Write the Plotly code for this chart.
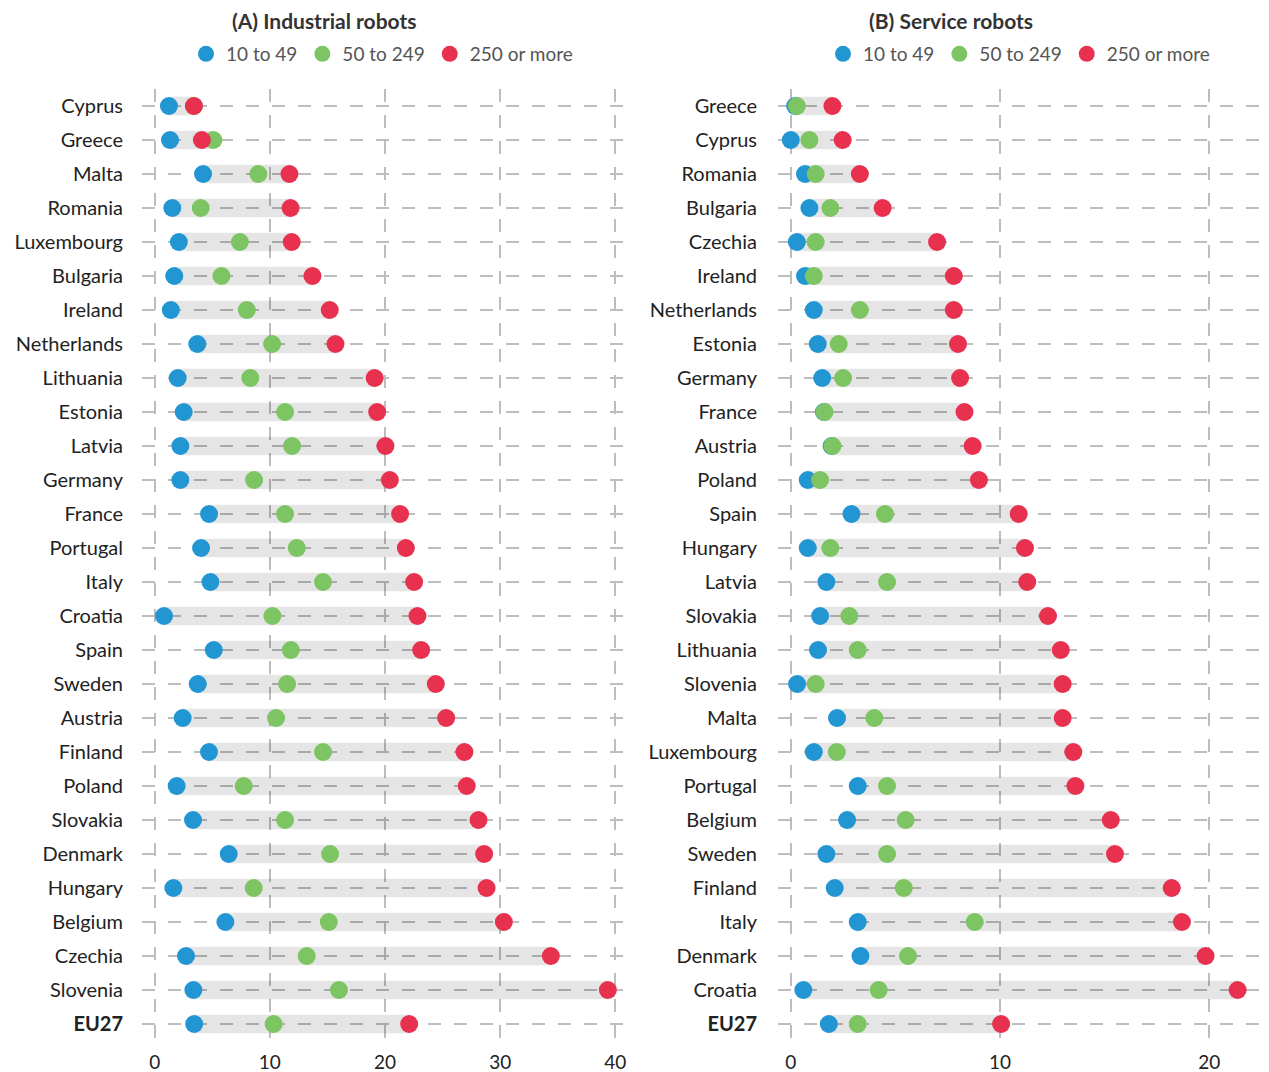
import plotly.graph_objects as go

# ---------------- data ----------------
countries_a = ["Cyprus", "Greece", "Malta", "Romania", "Luxembourg", "Bulgaria", "Ireland",
               "Netherlands", "Lithuania", "Estonia", "Latvia", "Germany", "France", "Portugal",
               "Italy", "Croatia", "Spain", "Sweden", "Austria", "Finland", "Poland", "Slovakia",
               "Denmark", "Hungary", "Belgium", "Czechia", "Slovenia", "<b>EU27</b>"]
small_a = [1.24, 1.33, 4.2, 1.53, 2.1, 1.7, 1.4, 3.7, 2.0, 2.52, 2.23, 2.23, 4.72, 4.03,
           4.84, 0.81, 5.13, 3.74, 2.43, 4.72, 1.91, 3.33, 6.43, 1.62, 6.14, 2.72, 3.36, 3.43]
medium_a = [3.4, 5.1, 9.0, 4.0, 7.4, 5.8, 8.0, 10.2, 8.3, 11.32, 11.93, 8.63, 11.32, 12.34,
            14.62, 10.22, 11.82, 11.5, 10.54, 14.62, 7.73, 11.32, 15.23, 8.6, 15.12, 13.2, 16.0, 10.33]
large_a = [3.41, 4.1, 11.7, 11.8, 11.9, 13.7, 15.2, 15.7, 19.1, 19.32, 20.04, 20.42, 21.31, 21.81,
           22.53, 22.82, 23.14, 24.41, 25.31, 26.9, 27.1, 28.12, 28.61, 28.82, 30.32, 34.4, 39.35, 22.1]

countries_b = ["Greece", "Cyprus", "Romania", "Bulgaria", "Czechia", "Ireland", "Netherlands",
               "Estonia", "Germany", "France", "Austria", "Poland", "Spain", "Hungary", "Latvia",
               "Slovakia", "Lithuania", "Slovenia", "Malta", "Luxembourg", "Portugal", "Belgium",
               "Sweden", "Finland", "Italy", "Denmark", "Croatia", "<b>EU27</b>"]
small_b = [0.21, 0.0, 0.68, 0.89, 0.29, 0.68, 1.1, 1.29, 1.5, 1.58, 1.95, 0.81, 2.9, 0.81, 1.7,
           1.4, 1.3, 0.3, 2.21, 1.1, 3.2, 2.69, 1.7, 2.1, 3.2, 3.33, 0.6, 1.82]
medium_b = [0.29, 0.89, 1.19, 1.89, 1.19, 1.1, 3.3, 2.29, 2.5, 1.61, 1.99, 1.4, 4.5, 1.89, 4.6,
            2.8, 3.2, 1.19, 3.99, 2.2, 4.6, 5.49, 4.6, 5.4, 8.79, 5.6, 4.2, 3.2]
large_b = [1.99, 2.48, 3.3, 4.39, 6.99, 7.79, 7.79, 7.99, 8.09, 8.3, 8.69, 8.99, 10.89, 11.19, 11.3,
           12.29, 12.9, 12.99, 12.99, 13.5, 13.6, 15.29, 15.49, 18.2, 18.69, 19.82, 21.35, 10.05]

series_names = ["10 to 49", "50 to 249", "250 or more"]
colors = ["#2196d3", "#7dc462", "#e8304f"]
panel_titles = ["<b>(A) Industrial robots</b>", "<b>(B) Service robots</b>"]

FONT = "Lato, 'Source Sans Pro', 'Noto Sans', sans-serif"
OFF = 8                      # page body margin
W, H = 1269 - OFF, 1072 - OFF
TOP, BOT = 89 - OFF, 1041 - OFF
PH = BOT - TOP


def px(x):
    return (x - OFF) / W


def py(y):
    return (BOT - (y - OFF)) / PH


fig = go.Figure()

panels = [
    (countries_a, [small_a, medium_a, large_a], "x", "y", "legend"),
    (countries_b, [small_b, medium_b, large_b], "x2", "y2", "legend2"),
]

for cats, series, xa, ya, lg in panels:
    lo = [min(v) for v in zip(*series)]
    hi = [max(v) for v in zip(*series)]
    fig.add_trace(go.Bar(
        y=cats, x=[h - l for l, h in zip(lo, hi)], base=lo, orientation="h",
        width=0.55, marker=dict(color="rgba(0,0,0,0.10)", line=dict(width=0)),
        showlegend=False, hoverinfo="skip", xaxis=xa, yaxis=ya,
    ))
    for name, vals, col in zip(series_names, series, colors):
        fig.add_trace(go.Scatter(
            y=cats, x=vals, mode="markers", name=name,
            marker=dict(size=18, color=col, line=dict(width=0)),
            xaxis=xa, yaxis=ya, legend=lg, showlegend=True,
        ))

grid = dict(showgrid=True, gridcolor="#bdbdbd", gridwidth=1.5, griddash="13px,13px",
            zeroline=False, showline=False, ticks="")
n = len(countries_a)

fig.update_layout(
    width=W, height=H,
    margin=dict(l=0, r=0, t=TOP, b=H - BOT),
    paper_bgcolor="white", plot_bgcolor="white",
    font=dict(family=FONT, size=19, color="#222"),
    barmode="overlay",
    xaxis=dict(domain=[px(142), px(628)], range=[-1.1, 41.1], tick0=0, dtick=10,
               ticklabelstandoff=8, **grid),
    xaxis2=dict(domain=[px(778), px(1264)], range=[-0.61, 22.61], tick0=0, dtick=10,
                ticklabelstandoff=8, **grid),
    yaxis=dict(type="category", range=[n - 0.5, -0.5], anchor="x", ticklabelstandoff=18,
               tickfont=dict(size=20), **grid),
    yaxis2=dict(type="category", range=[n - 0.5, -0.5], anchor="x2", ticklabelstandoff=20,
                tickfont=dict(size=20), **grid),
    legend=dict(orientation="h", x=px(382), xanchor="center", y=py(54), yanchor="middle",
                font=dict(size=19, color="#555"), bgcolor="rgba(0,0,0,0)"),
    legend2=dict(orientation="h", x=px(1019), xanchor="center", y=py(54), yanchor="middle",
                 font=dict(size=19, color="#555"), bgcolor="rgba(0,0,0,0)"),
    showlegend=True,
)

for tx, xc in zip(panel_titles, [324, 951]):
    fig.add_annotation(text=tx, x=px(xc), y=py(20), xref="paper", yref="paper",
                       showarrow=False, xanchor="center", yanchor="middle",
                       font=dict(size=21, color="#333", family=FONT))

fig.write_html("out.html")
